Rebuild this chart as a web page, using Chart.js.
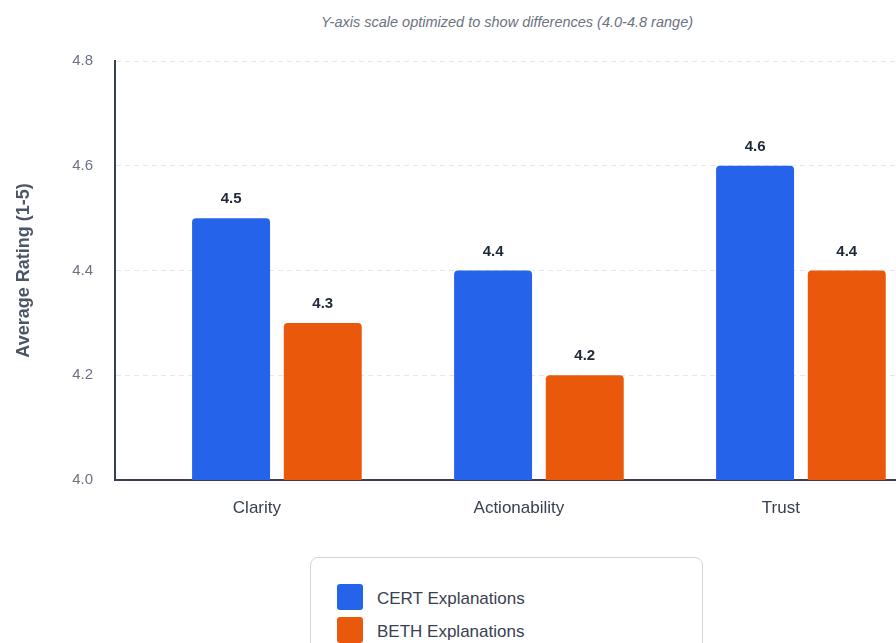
<!DOCTYPE html>
<html>
<head>
<meta charset="utf-8">
<script src="https://cdn.jsdelivr.net/npm/chart.js@4.4.1/dist/chart.umd.min.js"></script>
<style>
    html, body { margin: 0; padding: 0; overflow: hidden; background: #fff; }
    body { font-family: "Liberation Sans", Arial, sans-serif; width: 896px; height: 643px; }
    #wrap { position: relative; width: 1014px; height: 643px; }
    .note { position: absolute; top: 14px; left: 0; width: 100%; text-align: center; font-size: 14.5px; font-style: italic; color: #6b7280; }
    .chart-box { position: absolute; top: 40px; left: 0; width: 1014px; height: 500px; }
    .legend { position: absolute; top: 557px; left: 310px; width: 393px; height: 120px; border: 1px solid #d1d5db; border-radius: 8px; box-sizing: border-box; padding: 26px 0 0 26px; }
    .legend-item { display: flex; align-items: center; height: 26px; margin-bottom: 7px; font-size: 17px; color: #374151; }
    .legend-item span.txt { position: relative; top: 2px; }
    .swatch { width: 26px; height: 26px; border-radius: 3px; margin-right: 14px; }
</style>
</head>
<body>
<div id="wrap">
    <div class="note">Y-axis scale optimized to show differences (4.0-4.8 range)</div>
    <div class="chart-box"><canvas id="rating-chart"></canvas></div>
    <div class="legend" id="legend"></div>
</div>
<script>
const categories = ['Clarity', 'Actionability', 'Trust'];
const certValues = [4.5, 4.4, 4.6];
const bethValues = [4.3, 4.2, 4.4];
const yTicks = [4.0, 4.2, 4.4, 4.6, 4.8];
const seriesNames = ['CERT Explanations', 'BETH Explanations'];
const seriesColors = ['#2563eb', '#ea580c'];

const fontFamily = '"Liberation Sans", Arial, sans-serif';

// value labels above each bar
const barLabels = {
    id: 'barLabels',
    afterDatasetsDraw(chart) {
        const ctx = chart.ctx;
        ctx.save();
        ctx.font = 'bold 15px ' + fontFamily;
        ctx.fillStyle = '#1f2937';
        ctx.textAlign = 'center';
        ctx.textBaseline = 'middle';
        chart.data.datasets.forEach((ds, i) => {
            chart.getDatasetMeta(i).data.forEach((bar, j) => {
                ctx.fillText(ds.data[j].y.toFixed(1), bar.x, bar.y - 19);
            });
        });
        ctx.restore();
    }
};

const ctx = document.getElementById('rating-chart').getContext('2d');
new Chart(ctx, {
    type: 'bar',
    data: {
        datasets: [certValues, bethValues].map((vals, i) => ({
            label: seriesNames[i],
            data: vals.map((v, k) => ({ x: k, y: v })),
            backgroundColor: seriesColors[i],
            borderRadius: 4,
            borderSkipped: false,
            categoryPercentage: 0.7,
            barPercentage: 0.85
        }))
    },
    options: {
        responsive: true,
        maintainAspectRatio: false,
        animation: false,
        layout: { padding: { left: 9, right: 113, top: 21, bottom: 0 } },
        plugins: { legend: { display: false }, tooltip: { enabled: false } },
        scales: {
            x: {
                type: 'linear',
                offset: false,
                min: -0.618,
                max: 2.382,
                afterBuildTicks: scale => { scale.ticks = categories.map((c, k) => ({ value: k })); },
                grid: { display: false, drawTicks: false },
                border: { color: '#374151', width: 2 },
                ticks: {
                    color: '#374151',
                    padding: 18,
                    labelOffset: -20,
                    font: { size: 17, family: fontFamily },
                    callback: v => categories[v]
                },
                afterFit: scale => { scale.height = 60; }
            },
            y: {
                min: 4.0,
                max: 4.8,
                afterBuildTicks: scale => { scale.ticks = yTicks.map(v => ({ value: v })); },
                grid: { color: '#e5e7eb', drawTicks: true, tickLength: 19, tickColor: 'rgba(0,0,0,0)', lineWidth: 1 },
                border: { color: '#374151', width: 2, dash: [5, 4] },
                ticks: {
                    color: '#6b7280',
                    padding: 3,
                    font: { size: 15, family: fontFamily },
                    callback: v => Number(v).toFixed(1)
                },
                title: {
                    display: true,
                    text: 'Average Rating (1-5)',
                    color: '#4b5563',
                    font: { size: 18, weight: 'bold', family: fontFamily }
                },
                afterFit: scale => { scale.width = 106; }
            }
        }
    },
    plugins: [barLabels]
});

document.getElementById('legend').innerHTML = seriesNames.map((name, i) =>
    `<div class="legend-item"><span class="swatch" style="background:${seriesColors[i]}"></span><span class="txt">${name}</span></div>`
).join('');
</script>
</body>
</html>
